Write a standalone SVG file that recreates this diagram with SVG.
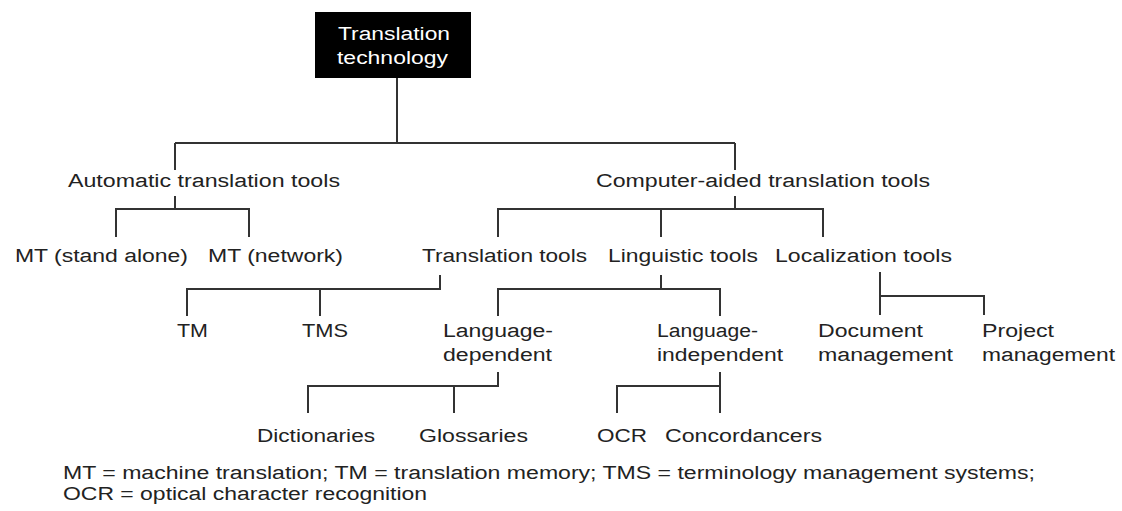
<svg xmlns="http://www.w3.org/2000/svg" width="1122" height="511" viewBox="0 0 1122 511">
<style>
text{font-family:"Liberation Sans",Arial,sans-serif;font-size:18px;fill:#222;}
.w{fill:#fff;}
#connectors path{fill:none;stroke:#333;stroke-width:2;}
</style>
<rect width="1122" height="511" fill="#fff"/>
<g id="connectors">
<path d="M397 78V143M175 143H735M175 143V170M735 143V170"/>
<path d="M175 196V209M116 237V209H249V237"/>
<path d="M735 196V209M498 237V209H823V237M661 209V237"/>
<path d="M440 275V289H187V316M320 289V316"/>
<path d="M661 275V289M498 316V289H720V316"/>
<path d="M880 272V315M880 296H984V315"/>
<path d="M498 372V386H308V413M454 386V413"/>
<path d="M720 372V413M617 413V386H720"/>
</g>
<g id="root"><rect x="315" y="12" width="156" height="66" fill="#000"/>
<text class="w" x="338" y="40" textLength="112" lengthAdjust="spacingAndGlyphs">Translation</text>
<text class="w" x="337" y="64" textLength="111" lengthAdjust="spacingAndGlyphs">technology</text></g>
<g id="auto"><text x="68" y="187" textLength="272" lengthAdjust="spacingAndGlyphs">Automatic translation tools</text></g>
<g id="cat"><text x="596" y="187" textLength="334" lengthAdjust="spacingAndGlyphs">Computer-aided translation tools</text></g>
<g id="mt-stand"><text x="15" y="262" textLength="173" lengthAdjust="spacingAndGlyphs">MT (stand alone)</text></g>
<g id="mt-net"><text x="208" y="262" textLength="135" lengthAdjust="spacingAndGlyphs">MT (network)</text></g>
<g id="trans-tools"><text x="422" y="262" textLength="165" lengthAdjust="spacingAndGlyphs">Translation tools</text></g>
<g id="ling-tools"><text x="608" y="262" textLength="150" lengthAdjust="spacingAndGlyphs">Linguistic tools</text></g>
<g id="loc-tools"><text x="775" y="262" textLength="177" lengthAdjust="spacingAndGlyphs">Localization tools</text></g>
<g id="tm"><text x="177" y="337" textLength="31" lengthAdjust="spacingAndGlyphs">TM</text></g>
<g id="tms"><text x="302" y="337" textLength="46" lengthAdjust="spacingAndGlyphs">TMS</text></g>
<g id="lang-dep"><text x="443" y="337" textLength="110" lengthAdjust="spacingAndGlyphs">Language-</text>
<text x="443" y="361" textLength="109" lengthAdjust="spacingAndGlyphs">dependent</text></g>
<g id="lang-indep"><text x="657" y="337" textLength="101" lengthAdjust="spacingAndGlyphs">Language-</text>
<text x="657" y="361" textLength="126" lengthAdjust="spacingAndGlyphs">independent</text></g>
<g id="doc-mgmt"><text x="818" y="337" textLength="105" lengthAdjust="spacingAndGlyphs">Document</text>
<text x="818" y="361" textLength="135" lengthAdjust="spacingAndGlyphs">management</text></g>
<g id="proj-mgmt"><text x="982" y="337" textLength="72" lengthAdjust="spacingAndGlyphs">Project</text>
<text x="982" y="361" textLength="133" lengthAdjust="spacingAndGlyphs">management</text></g>
<g id="dict"><text x="257" y="442" textLength="118" lengthAdjust="spacingAndGlyphs">Dictionaries</text></g>
<g id="gloss"><text x="419" y="442" textLength="109" lengthAdjust="spacingAndGlyphs">Glossaries</text></g>
<g id="ocr"><text x="597" y="442" textLength="50" lengthAdjust="spacingAndGlyphs">OCR</text></g>
<g id="conc"><text x="665" y="442" textLength="157" lengthAdjust="spacingAndGlyphs">Concordancers</text></g>
<g id="legend"><text x="63" y="479" textLength="972" lengthAdjust="spacingAndGlyphs">MT = machine translation; TM = translation memory; TMS = terminology management systems;</text>
<text x="63" y="500" textLength="364" lengthAdjust="spacingAndGlyphs">OCR = optical character recognition</text></g>
</svg>
